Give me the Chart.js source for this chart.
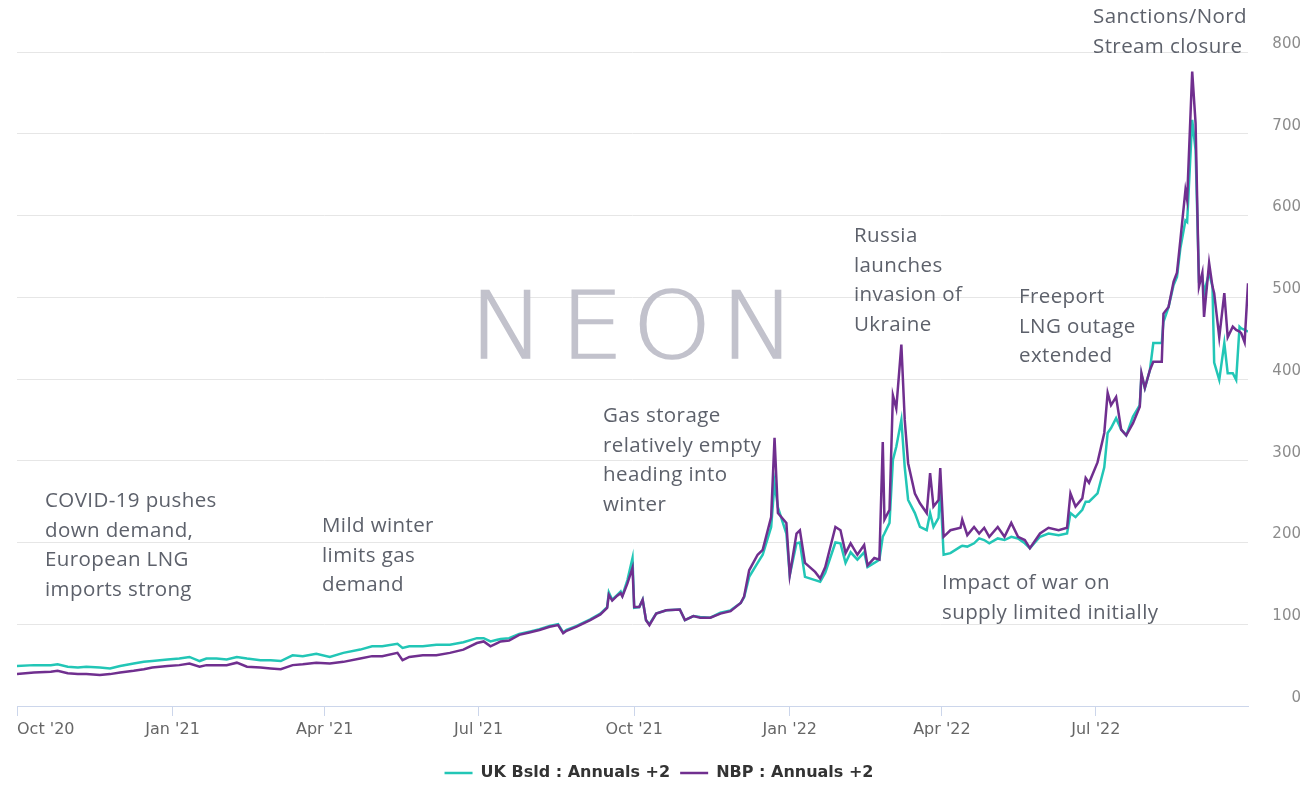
<!DOCTYPE html>
<html>
<head>
<meta charset="utf-8">
<script src="https://cdn.jsdelivr.net/npm/chart.js@4.4.1/dist/chart.umd.min.js"></script>
<style>
  html, body { margin: 0; padding: 0; background: #fff; overflow: hidden; }
  #wrap { position: relative; width: 1309px; height: 785px; }
  #wrap canvas { position: absolute; left: 0; top: 0; }
  .note {
    position: absolute; white-space: nowrap;
    font-family: "Open Sans", sans-serif; font-size: 20.5px; line-height: 29.5px;
    letter-spacing: .4px; color: #5d616b;
  }
</style>
</head>
<body>
<div id="wrap">
  <canvas id="chart" width="1309" height="785"></canvas>
  <div class="note" style="left:45px;top:485px">COVID-19 pushes<br>down demand,<br>European LNG<br>imports strong</div>
  <div class="note" style="left:322px;top:510px">Mild winter<br>limits gas<br>demand</div>
  <div class="note" style="left:603px;top:400px">Gas storage<br>relatively empty<br>heading into<br>winter</div>
  <div class="note" style="left:854px;top:220px">Russia<br>launches<br>invasion of<br>Ukraine</div>
  <div class="note" style="left:1019px;top:281px">Freeport<br>LNG outage<br>extended</div>
  <div class="note" style="left:942px;top:567px">Impact of war on<br>supply limited initially</div>
  <div class="note" style="left:1093px;top:1px">Sanctions/Nord<br>Stream closure</div>
</div>
<script>
/* ── Data: days since 1 Oct 2020 ──── */
const dayIdx = [
  0, 10, 20, 24, 30, 36, 41, 49, 55, 61, 69, 75, 80, 89, 96, 102, 108, 112, 118, 124,
  130, 136, 144, 150, 156, 163, 169, 177, 185, 193, 203, 210, 216, 225, 228, 232, 240, 248, 256, 264,
  272, 276, 280, 284, 286, 291, 297, 303, 309, 315, 320, 323, 325, 331, 339, 345, 349, 350, 352, 355,
  357, 358, 361, 364, 365, 368, 370, 372, 374, 378, 384, 392, 395, 400, 404, 410, 416, 422, 428, 430,
  433, 438, 441, 446, 448, 450, 455, 457, 461, 463, 466, 472, 475, 478, 484, 487, 490, 493, 497, 501,
  503, 507, 510, 512, 513, 516, 518, 520, 523, 525, 527, 531, 534, 538, 540, 542, 545, 546, 548, 552,
  558, 559, 562, 566, 569, 572, 575, 580, 584, 588, 592, 596, 599, 605, 610, 616, 621, 623, 626, 630,
  632, 634, 639, 643, 645, 647, 650, 653, 656, 660, 664, 665, 667, 670, 672, 677, 678, 681, 684, 686,
  688, 691, 692, 695, 697, 699, 701, 702, 705, 707, 708, 711, 714, 716, 719, 721, 723, 724, 726, 728
];
const ukBsld = [
  49, 50, 50, 51, 48, 47, 48, 47, 46, 49, 52, 54, 55, 57, 58, 60, 55, 58, 58, 57,
  60, 58, 56, 56, 55, 62, 61, 64, 60, 65, 69, 73, 73, 76, 71, 73, 73, 75, 75, 78,
  83, 83, 79, 81, 82, 83, 88, 91, 94, 98, 100, 90, 93, 98, 106, 113, 121, 139, 130, 136,
  140, 135, 154, 181, 120, 121, 130, 105, 100, 113, 117, 118, 105, 110, 109, 108, 114, 117, 126, 133,
  158, 175, 185, 219, 273, 243, 211, 160, 199, 200, 158, 154, 152, 163, 200, 199, 175, 188, 179, 188,
  170, 175, 179, 207, 211, 224, 301, 317, 350, 292, 252, 236, 219, 215, 236, 219, 230, 268, 185, 187,
  195, 196, 195, 199, 205, 203, 199, 205, 203, 207, 205, 199, 193, 207, 211, 209, 211, 236, 231, 240,
  250, 250, 260, 292, 334, 340, 352, 338, 331, 354, 368, 405, 389, 411, 444, 444, 470, 488, 515, 525,
  560, 594, 592, 717, 680, 521, 525, 505, 530, 513, 420, 399, 444, 407, 407, 399, 464, 462, 460, 458
];
const nbp = [
  39, 41, 42, 43, 40, 39, 39, 38, 39, 41, 43, 45, 47, 49, 50, 52, 48, 50, 50, 50,
  53, 48, 47, 46, 45, 50, 51, 53, 52, 54, 58, 61, 61, 65, 56, 60, 62, 62, 65, 69,
  77, 79, 73, 77, 79, 80, 87, 90, 93, 97, 99, 89, 92, 97, 105, 112, 120, 136, 129, 135,
  138, 134, 150, 169, 121, 121, 130, 105, 99, 113, 117, 118, 105, 110, 108, 108, 113, 116, 126, 134,
  166, 185, 191, 231, 328, 236, 224, 160, 211, 215, 175, 164, 156, 170, 219, 215, 187, 199, 185, 197,
  172, 181, 179, 323, 228, 240, 380, 364, 442, 350, 297, 260, 248, 236, 285, 244, 252, 291, 207, 215,
  218, 228, 209, 219, 211, 218, 207, 219, 207, 224, 207, 203, 193, 211, 218, 215, 218, 260, 244, 254,
  279, 273, 298, 334, 383, 368, 378, 338, 331, 346, 366, 407, 389, 411, 421, 421, 480, 488, 519, 530,
  570, 631, 619, 776, 713, 513, 530, 476, 542, 513, 505, 451, 505, 451, 464, 460, 458, 456, 445, 517
];

const tickDays   = [0, 92, 182, 273, 365, 457, 547, 638, 728];
const tickLabels = ["Oct '20", "Jan '21", "Apr '21", "Jul '21", "Oct '21", "Jan '22", "Apr '22", "Jul '22", ""];

const seriesNames = ['UK Bsld : Annuals +2', 'NBP : Annuals +2'];
const TEAL = '#22c6b6';
const PURPLE = '#702f8f';

/* ── Watermark ───────────────────────────────────────────────────── */
const neonMark = {
  id: 'neonMark',
  beforeDatasetsDraw(chart) {
    const { ctx } = chart;
    ctx.save();
    ctx.fillStyle = '#c2c2cc';
    ctx.strokeStyle = '#c2c2cc';
    ctx.lineWidth = 1.4;
    ctx.font = '200 92px "DejaVu Sans"';
    ctx.textAlign = 'center';
    ctx.textBaseline = 'alphabetic';
    [['N', 507], ['E', 592], ['O', 672], ['N', 758]].forEach(([ch, x]) => {
      ctx.save();
      ctx.translate(x, 358);
      ctx.scale(1.1, 1);
      ctx.fillText(ch, 0, 0);
      ctx.strokeText(ch, 0, 0);
      ctx.restore();
    });
    ctx.restore();
  }
};

const toPoints = vals => dayIdx.map((d, i) => ({ x: d, y: vals[i] }));

new Chart(document.getElementById('chart').getContext('2d'), {
  type: 'line',
  data: {
    datasets: [
      { label: seriesNames[0], data: toPoints(ukBsld), borderColor: TEAL, backgroundColor: TEAL, borderWidth: 2.5, order: 1 },
      { label: seriesNames[1], data: toPoints(nbp), borderColor: PURPLE, backgroundColor: PURPLE, borderWidth: 2.5, order: 0 }
    ]
  },
  options: {
    responsive: false,
    animation: false,
    layout: { padding: { top: 52, right: 8, bottom: -6, left: 17 } },
    elements: { point: { radius: 0 }, line: { tension: 0 } },
    plugins: {
      tooltip: { enabled: false },
      legend: {
        position: 'bottom',
        labels: {
          usePointStyle: true,
          pointStyle: 'line',
          pointStyleWidth: 28,
          padding: 10,
          color: '#333',
          font: { family: '"DejaVu Sans"', size: 16, weight: 'bold' },
          sort: (a, b) => a.datasetIndex - b.datasetIndex
        }
      }
    },
    scales: {
      x: {
        type: 'linear',
        min: 0,
        max: 728,
        afterBuildTicks: scale => { scale.ticks = tickDays.map(v => ({ value: v })); },
        afterFit: scale => { scale.height = 49; },
        ticks: {
          autoSkip: false,
          maxRotation: 0,
          align: 'inner',
          padding: 4,
          color: '#666',
          font: { family: '"DejaVu Sans"', size: 16 },
          callback: (v, i) => tickLabels[i]
        },
        grid: {
          drawOnChartArea: false,
          tickLength: 10,
          tickColor: ctx => (ctx.index === tickDays.length - 1 ? 'rgba(0,0,0,0)' : '#ccd6eb')
        },
        border: { color: '#ccd6eb' }
      },
      y: {
        position: 'right',
        min: 0,
        max: 800,
        afterFit: scale => { scale.width = 53; },
        ticks: {
          stepSize: 100,
          crossAlign: 'far',
          padding: 25,
          labelOffset: -8,
          color: '#8c8c8c',
          font: { family: '"DejaVu Sans"', size: 15 }
        },
        grid: { color: '#e6e6e6', drawTicks: false },
        border: { display: false }
      }
    }
  },
  plugins: [neonMark]
});
</script>
</body>
</html>
